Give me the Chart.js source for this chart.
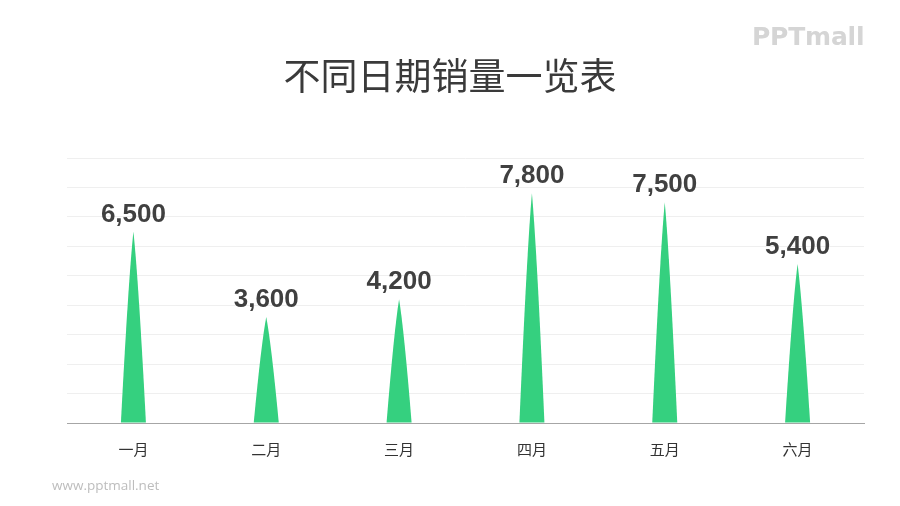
<!DOCTYPE html>
<html>
<head>
<meta charset="utf-8">
<script src="https://cdn.jsdelivr.net/npm/chart.js@4/dist/chart.umd.min.js"></script>
<style>
  html, body { margin: 0; padding: 0; background: #fff; }
  #wrap { position: relative; width: 900px; height: 506px; }
  #title { position: absolute; left: 0; width: 900px; top: 56px; text-align: center;
           font: 37px/37px "Noto Sans CJK SC", sans-serif; color: #3a3a3a; }
  #logo { position: absolute; left: 752px; top: 22px; font: bold 25px "DejaVu Sans", sans-serif; color: #d5d5d5; letter-spacing: -0.2px; }
  #site { position: absolute; left: 52px; top: 476px; font: 13.5px "Open Sans", sans-serif; color: #bdbdbd; }
</style>
</head>
<body>
<div id="wrap">
  <canvas id="chart" width="900" height="506"></canvas>
  <div id="title">不同日期销量一览表</div>
  <div id="logo">PPTmall</div>
  <div id="site">www.pptmall.net</div>
</div>
<script>
var months = ["一月", "二月", "三月", "四月", "五月", "六月"];
var sales = [6500, 3600, 4200, 7800, 7500, 5400];
var green = "#35d07f";

// draws each bar as a pointed spike and puts the value above it
var spikes = {
    id: "spikes",
    afterDatasetsDraw(chart) {
        var ctx = chart.ctx;
        var meta = chart.getDatasetMeta(0);
        ctx.save();
        meta.data.forEach((bar, i) => {
            var x = bar.x, top = bar.y, base = bar.base;
            var half = bar.width / 2;
            var h = base - top;
            ctx.beginPath();
            ctx.moveTo(x - half, base);
            ctx.quadraticCurveTo(x - half * 0.4, top + h * 0.25, x, top);
            ctx.quadraticCurveTo(x + half * 0.4, top + h * 0.25, x + half, base);
            ctx.closePath();
            ctx.fillStyle = green;
            ctx.fill();

            ctx.fillStyle = "#404040";
            ctx.font = "bold 26px 'Liberation Sans', Arial, sans-serif";
            ctx.textAlign = "center";
            ctx.textBaseline = "alphabetic";
            ctx.fillText(sales[i].toLocaleString("en-US"), x, top - 10);
        });
        ctx.restore();
    }
};

new Chart("chart", {
    type: "bar",
    data: {
        labels: months,
        datasets: [{
            data: sales,
            backgroundColor: "rgba(0,0,0,0)",
            barThickness: 25
        }]
    },
    options: {
        responsive: false,
        animation: false,
        layout: { padding: { left: 67, right: 36, top: 158, bottom: 31 } },
        plugins: {
            legend: { display: false },
            tooltip: { enabled: false }
        },
        scales: {
            x: {
                grid: { display: false, drawTicks: false },
                border: { display: true, color: "#a6a6a6", width: 1 },
                ticks: {
                    color: "#333",
                    padding: 17,
                    font: { size: 15, family: "'Noto Sans CJK SC', sans-serif" }
                }
            },
            y: {
                min: 0,
                max: 9000,
                ticks: { display: false, stepSize: 1000 },
                grid: { color: "#efefef", drawTicks: false },
                border: { display: false }
            }
        }
    },
    plugins: [spikes]
});
</script>
</body>
</html>
